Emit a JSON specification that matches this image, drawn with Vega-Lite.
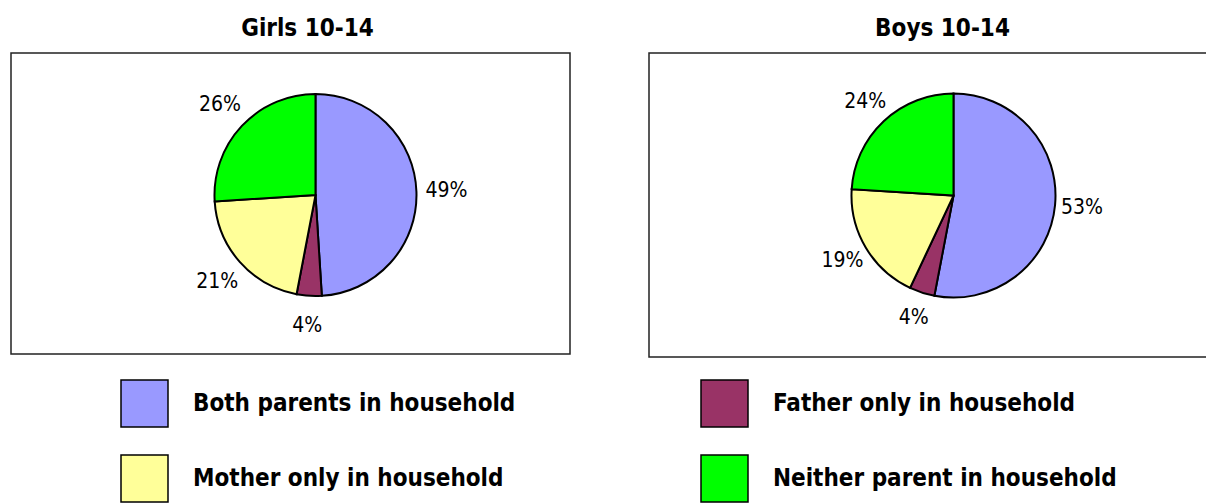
{
  "$schema": "https://vega.github.io/schema/vega-lite/v6.json",
  "padding": {"left": 10, "top": 16, "right": 0, "bottom": 0},
  "background": "white",
  "data": {
    "values": [
      {"group": "Girls 10-14", "category": "Both parents in household", "share": 0.49},
      {"group": "Girls 10-14", "category": "Father only in household", "share": 0.04},
      {"group": "Girls 10-14", "category": "Mother only in household", "share": 0.21},
      {"group": "Girls 10-14", "category": "Neither parent in household", "share": 0.26},
      {"group": "Boys 10-14", "category": "Both parents in household", "share": 0.53},
      {"group": "Boys 10-14", "category": "Father only in household", "share": 0.04},
      {"group": "Boys 10-14", "category": "Mother only in household", "share": 0.19},
      {"group": "Boys 10-14", "category": "Neither parent in household", "share": 0.24}
    ]
  },
  "spacing": 77,
  "hconcat": [
    {
      "title": {"text": "Girls 10-14", "dx": 17},
      "width": 559,
      "height": 301,
      "transform": [{"filter": "datum.group == 'Girls 10-14'"}],
      "encoding": {
        "theta": {"field": "share", "type": "quantitative", "stack": true},
        "order": {"field": "category", "sort": "ascending"},
        "x": {"datum": 0.5447, "type": "quantitative", "scale": {"domain": [0, 1]}, "axis": null},
        "y": {"datum": 0.528, "type": "quantitative", "scale": {"domain": [0, 1]}, "axis": null}
      },
      "layer": [
        {
          "mark": {"type": "arc", "outerRadius": 101, "stroke": "black", "strokeWidth": 2},
          "encoding": {
            "color": {
              "field": "category",
              "type": "nominal",
              "scale": {
                "domain": ["Both parents in household", "Father only in household", "Mother only in household", "Neither parent in household"],
                "range": ["#9999FF", "#993366", "#FFFF99", "#00FF00"]
              },
              "legend": {
                "orient": "none", "legendX": 109, "legendY": 326, "columns": 2, "direction": "horizontal", "title": null
              }
            }
          }
        },
        {
          "mark": {"type": "text", "radius": 131, "fontSize": 21, "font": "DejaVu Sans Condensed", "color": "black"},
          "encoding": {
            "text": {"field": "share", "type": "quantitative", "format": ".0%"}
          }
        }
      ]
    },
    {
      "title": {"text": "Boys 10-14", "dx": -11},
      "width": 609,
      "height": 304,
      "transform": [{"filter": "datum.group == 'Boys 10-14'"}],
      "encoding": {
        "theta": {"field": "share", "type": "quantitative", "stack": true},
        "order": {"field": "category", "sort": "ascending"},
        "x": {"datum": 0.5, "type": "quantitative", "scale": {"domain": [0, 1]}, "axis": null},
        "y": {"datum": 0.531, "type": "quantitative", "scale": {"domain": [0, 1]}, "axis": null}
      },
      "layer": [
        {
          "mark": {"type": "arc", "outerRadius": 102, "stroke": "black", "strokeWidth": 2},
          "encoding": {
            "color": {"field": "category", "type": "nominal"}
          }
        },
        {
          "mark": {"type": "text", "radius": 129, "fontSize": 21, "font": "DejaVu Sans Condensed", "color": "black"},
          "encoding": {
            "text": {"field": "share", "type": "quantitative", "format": ".0%"}
          }
        }
      ]
    }
  ],
  "resolve": {"scale": {"x": "independent", "y": "independent", "theta": "independent"}},
  "config": {
    "view": {"stroke": "#222222", "strokeWidth": 1.5},
    "title": {"font": "DejaVu Sans Condensed", "fontSize": 24, "fontWeight": "bold", "color": "black", "offset": 12},
    "legend": {
      "symbolType": "square",
      "symbolSize": 2209,
      "symbolStrokeColor": "black",
      "symbolStrokeWidth": 1.5,
      "symbolOpacity": 1,
      "labelFont": "DejaVu Sans Condensed",
      "labelFontSize": 24,
      "labelFontWeight": "bold",
      "labelColor": "black",
      "labelOffset": 24,
      "labelLimit": 0,
      "labelBaseline": "middle",
      "columnPadding": 182,
      "rowPadding": 22
    }
  }
}
